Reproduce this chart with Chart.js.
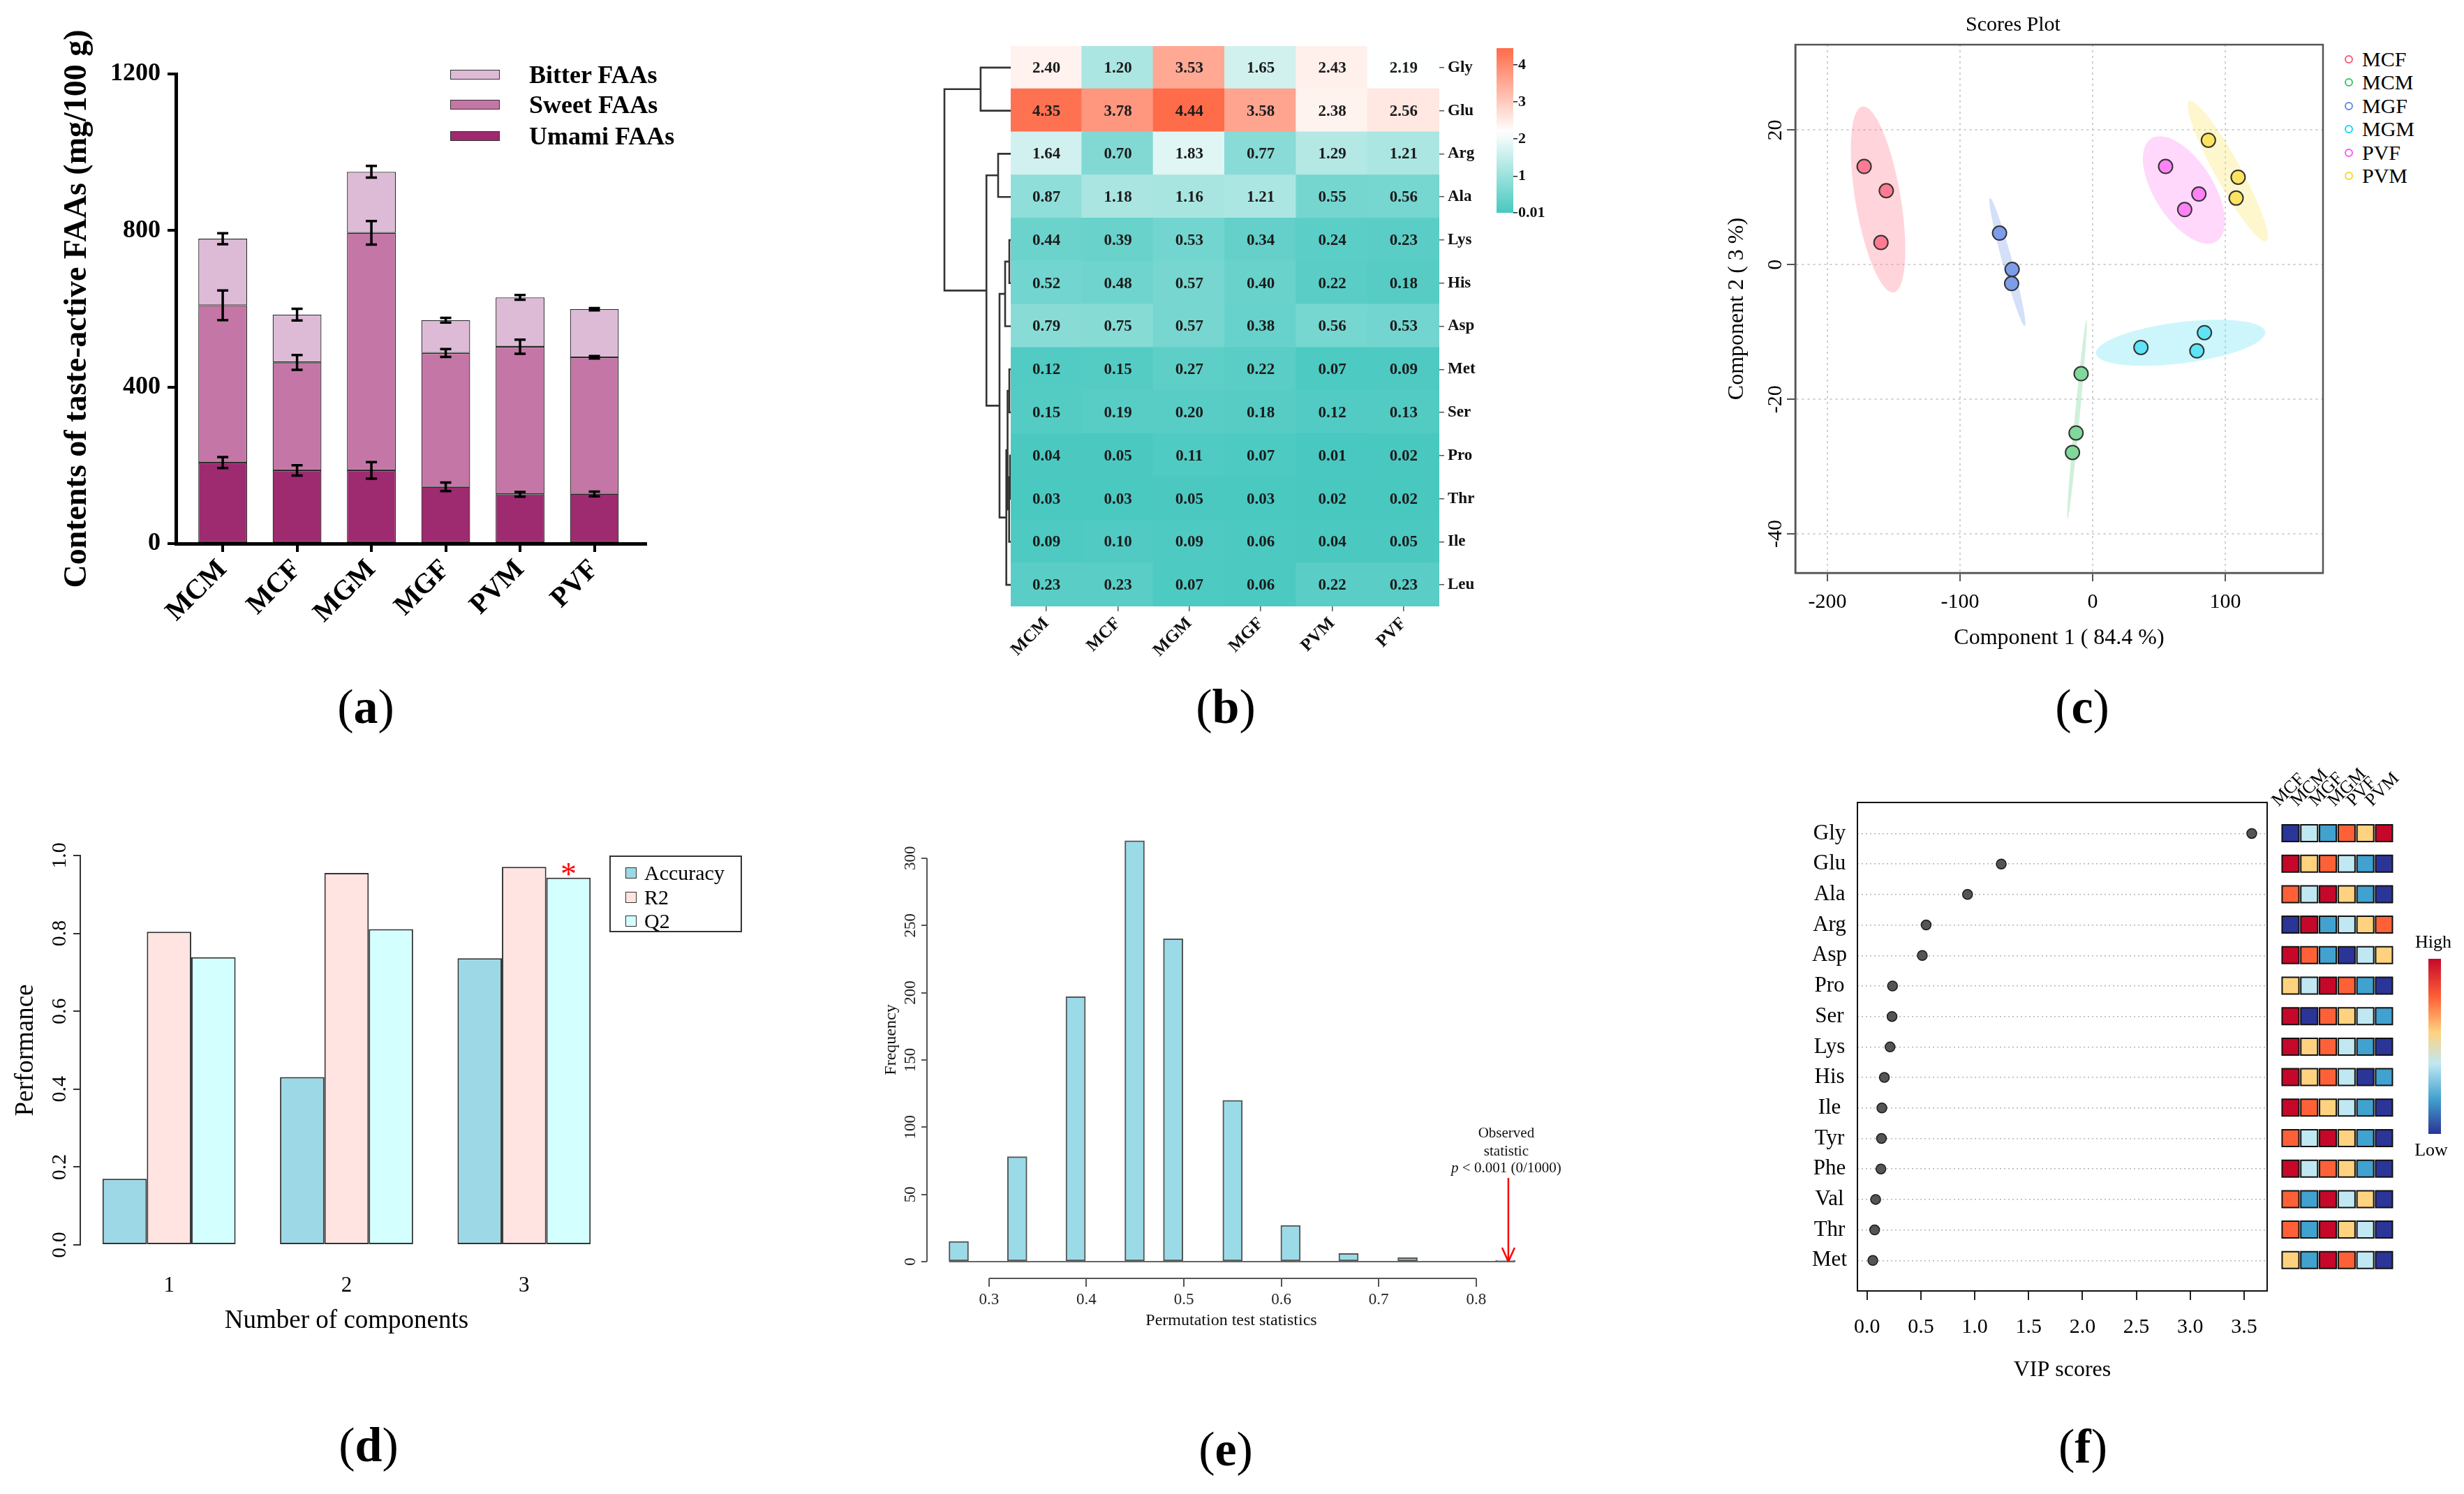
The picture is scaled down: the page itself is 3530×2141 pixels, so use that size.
<!DOCTYPE html>
<html><head><meta charset="utf-8"><title>Taste-active FAAs figure</title>
<script src="https://cdn.jsdelivr.net/npm/chart.js@4.4.1/dist/chart.umd.min.js"></script>
<style>
html,body{margin:0;padding:0;background:#fff}
body{position:relative;width:3530px;height:2141px;overflow:hidden;font-family:'Liberation Serif','Times New Roman',serif;color:#000}
canvas{position:absolute}
.abs{position:absolute;white-space:nowrap;line-height:1}
.lbl{font-size:70px;transform:translate(-50%,-50%)}
.vm{transform:translateY(-50%)}
</style></head><body>
<script>
// ===================== DATA =====================
// (a) taste-active FAAs (mg/100 g)
const faaGroups = ['MCM','MCF','MGM','MGF','PVM','PVF'];
const umamiFAAs = [207,187,187,145,126,127];
const sweetFAAs = [402,276,607,342,377,349];
const bitterFAAs = [170,122,156,84,126,123];
const umamiErr = [14,13,21,11,6,6];
const sweetErr = [38,19,30,10,18,3];
const bitterErr = [14,15,15,6,6,3];
const faaTicks = [0,400,800,1200];

// (b) heatmap
const heatSamples = ['MCM','MCF','MGM','MGF','PVM','PVF'];
const heatAAs = ['Gly','Glu','Arg','Ala','Lys','His','Asp','Met','Ser','Pro','Thr','Ile','Leu'];
const heatMCM = [2.40,4.35,1.64,0.87,0.44,0.52,0.79,0.12,0.15,0.04,0.03,0.09,0.23];
const heatMCF = [1.20,3.78,0.70,1.18,0.39,0.48,0.75,0.15,0.19,0.05,0.03,0.10,0.23];
const heatMGM = [3.53,4.44,1.83,1.16,0.53,0.57,0.57,0.27,0.20,0.11,0.05,0.09,0.07];
const heatMGF = [1.65,3.58,0.77,1.21,0.34,0.40,0.38,0.22,0.18,0.07,0.03,0.06,0.06];
const heatPVM = [2.43,2.38,1.29,0.55,0.24,0.22,0.56,0.07,0.12,0.01,0.02,0.04,0.22];
const heatPVF = [2.19,2.56,1.21,0.56,0.23,0.18,0.53,0.09,0.13,0.02,0.02,0.05,0.23];
const heatScaleTicks = [0.01,1,2,3,4];
// dendrogram merges (negative = leaf row, positive = earlier merge), merge heights
const dendroLeft   = [-10,-8,-5,1,2,5,3,7,-3,9,-1,11];
const dendroRight  = [-11,-9,-6,-12,4,-13,-7,6,-4,8,-2,10];
const dendroHeight = [1.0,2.0,2.0,2.3,4.5,6.3,8.0,16.0,18.0,34.7,43.0,94.7];

// (c) PLS-DA scores
const pcaGroups = ['MCF','MCM','MGF','MGM','PVF','PVM'];
const pc1MCF = [-172.3,-155.6,-159.6], pc2MCF = [14.6,11.0,3.3];
const pc1MCM = [-8.7,-12.5,-15.2],     pc2MCM = [-16.2,-25.0,-27.9];
const pc1MGF = [-70.2,-60.7,-61.1],    pc2MGF = [4.7,-0.7,-2.8];
const pc1MGM = [36.4,84.3,78.6],       pc2MGM = [-12.3,-10.1,-12.8];
const pc1PVF = [55.0,80.1,69.4],       pc2PVF = [14.6,10.5,8.2];
const pc1PVM = [87.3,109.7,108.2],     pc2PVM = [18.5,13.0,9.9];
const scoreXTicks = [-200,-100,0,100];
const scoreYTicks = [-40,-20,0,20];
// 95% confidence regions: centre and semi-axis vectors (data units)
const ellCx = [-161.8,-11.8,-64.3,66.3,68.8,101.9];
const ellCy = [9.7,-23.0,0.4,-11.6,11.1,13.9];
const ellAx = [-11.8,7.2,-13.1,63.8,-24.0,-29.0];
const ellAy = [13.8,14.8,9.5,1.6,7.7,10.4];
const ellBx = [16.8,1.8,3.6,-1.95,19.5,8.5];
const ellBy = [0.56,-0.035,0.19,3.03,2.1,0.9];

// (d) cross validation
const compLabels = ['1','2','3'];
const accuracyVals = [0.170,0.431,0.736];
const r2Vals = [0.804,0.955,0.971];
const q2Vals = [0.739,0.811,0.943];
const perfTicks = [0,0.2,0.4,0.6,0.8,1.0];

// (e) permutation test
const permStat = [0.269,0.329,0.389,0.4495,0.489,0.550,0.6095,0.669,0.7296,0.830];
const permFreq = [15,78,197,313,240,120,27,6,3,1];
const observedStat = 0.833;
const permXTicks = [0.3,0.4,0.5,0.6,0.7,0.8];
const permYTicks = [0,50,100,150,200,250,300];

// (f) VIP scores
const vipAAs = ['Gly','Glu','Ala','Arg','Asp','Pro','Ser','Lys','His','Ile','Tyr','Phe','Val','Thr','Met'];
const vipScores = [3.571,1.246,0.933,0.549,0.513,0.237,0.232,0.214,0.161,0.138,0.134,0.129,0.080,0.071,0.054];
const vipTicks = [0,0.5,1.0,1.5,2.0,2.5,3.0,3.5];
const vipGroups = ['MCF','MCM','MGF','MGM','PVF','PVM'];
const levelMCF = [1,6,5,1,6,4,6,6,6,6,5,6,5,5,4];
const levelMCM = [3,4,3,6,5,3,1,4,4,5,3,3,2,2,2];
const levelMGF = [2,5,6,2,2,6,5,5,5,4,6,5,6,6,6];
const levelMGM = [5,3,4,3,1,5,4,3,3,3,4,4,3,4,5];
const levelPVF = [4,2,2,4,3,2,3,2,1,2,2,2,4,3,3];
const levelPVM = [6,1,1,5,4,1,2,1,2,1,1,1,1,1,1];

// ===================== HELPERS =====================
const FONT = "'Liberation Serif','Times New Roman',serif";
Chart.defaults.font.family = FONT;
Chart.defaults.color = '#000';
function mk(left, top, w, h){
  const c = document.createElement('canvas');
  c.width = w; c.height = h;
  c.style.left = left+'px'; c.style.top = top+'px';
  c.style.width = w+'px'; c.style.height = h+'px';
  document.body.appendChild(c);
  return c;
}
function txt(left, top, html, style, cls){
  const d = document.createElement('div');
  d.className = 'abs ' + (cls||'');
  d.style.left = left+'px'; d.style.top = top+'px';
  if (style) d.style.cssText += style;
  d.innerHTML = html;
  document.body.appendChild(d);
  return d;
}
function box(left, top, w, h, style){
  const d = document.createElement('div');
  d.style.cssText = 'position:absolute;box-sizing:border-box;left:'+left+'px;top:'+top+'px;width:'+w+'px;height:'+h+'px;' + style;
  document.body.appendChild(d);
  return d;
}
const setTicks = arr => s => { s.ticks = arr.map(v => ({value: v})); };
const baseOpts = (o) => Object.assign({responsive:false, maintainAspectRatio:false, animation:false, devicePixelRatio:1, events:[]}, o);
const pad = (l,t,r,b) => ({autoPadding:false, padding:{left:l, top:t, right:r, bottom:b}});
const quiet = {legend:{display:false}, tooltip:{enabled:false}, title:{display:false}};
const framePlugin = {id:'frame', afterDatasetsDraw(chart, args, opts){
  const {left, top, right, bottom} = chart.chartArea; const ctx = chart.ctx;
  ctx.save(); ctx.strokeStyle = opts.color || '#000'; ctx.lineWidth = opts.width || 2;
  ctx.strokeRect(left, top, right-left, bottom-top); ctx.restore();
}};

// ===================== (a) stacked bars =====================
const faaColors = {umami:'#9E2A70', sweet:'#C477A6', bitter:'#DDBBD6'};
const faaErrs = [umamiErr, sweetErr, bitterErr];
const errPlugin = {id:'errbars', afterDatasetsDraw(chart){
  const ctx = chart.ctx, ys = chart.scales.y;
  ctx.save(); ctx.strokeStyle = '#000'; ctx.lineWidth = 3.5;
  chart.data.datasets.forEach((ds, di) => {
    chart.getDatasetMeta(di).data.forEach((el, i) => {
      let top = 0; for (let k = 0; k <= di; k++) top += chart.data.datasets[k].data[i].y;
      const e = faaErrs[di][i];
      const y1 = ys.getPixelForValue(top - e), y2 = ys.getPixelForValue(top + e);
      ctx.beginPath();
      ctx.moveTo(el.x, y1); ctx.lineTo(el.x, y2);
      ctx.moveTo(el.x-8, y1); ctx.lineTo(el.x+8, y1);
      ctx.moveTo(el.x-8, y2); ctx.lineTo(el.x+8, y2);
      ctx.stroke();
    });
  });
  ctx.restore();
}};
new Chart(mk(0,0,960,960), {
  type:'bar',
  data:{datasets:[
    {label:'Umami FAAs', data: umamiFAAs.map((v,i)=>({x:i,y:v})), backgroundColor:faaColors.umami},
    {label:'Sweet FAAs', data: sweetFAAs.map((v,i)=>({x:i,y:v})), backgroundColor:faaColors.sweet},
    {label:'Bitter FAAs', data: bitterFAAs.map((v,i)=>({x:i,y:v})), backgroundColor:faaColors.bitter}
  ]},
  options: baseOpts({
    layout: pad(0,106,35,0),
    plugins: quiet,
    datasets:{bar:{categoryPercentage:1, barPercentage:0.656, borderColor:'#2a2a2a', borderWidth:1.3, borderSkipped:false}},
    scales:{
      x:{type:'linear', stacked:true, offset:false, min:-0.63, max:5.69,
        afterBuildTicks: setTicks(faaGroups.map((_,i)=>i)),
        afterFit: s => { s.height = 181; },
        ticks:{callback: v => faaGroups[v], minRotation:45, maxRotation:45, autoSkip:false, font:{size:40, weight:'bold'}, color:'#000', padding:2},
        grid:{drawOnChartArea:false, drawTicks:true, tickLength:12, lineWidth:4, color:'#000', offset:false},
        border:{display:true, width:5, color:'#000'}},
      y:{stacked:true, min:0, max:1200,
        afterBuildTicks: setTicks(faaTicks),
        afterFit: s => { s.width = 252; },
        ticks:{callback: v => String(v), font:{size:36, weight:'bold'}, color:'#000', padding:10},
        grid:{drawOnChartArea:false, tickLength:12, lineWidth:4, color:'#000'},
        border:{display:true, width:5, color:'#000'},
        title:{display:true, text:'Contents of taste-active FAAs (mg/100 g)', font:{size:46, weight:'bold'}, color:'#000', padding:{top:84, bottom:0}}}
    }
  }),
  plugins:[errPlugin]
});
// legend (a)
[['Bitter FAAs', faaColors.bitter, 107],['Sweet FAAs', faaColors.sweet, 150],['Umami FAAs', faaColors.umami, 195]].forEach(([t,c,y]) => {
  box(645, y-7, 71, 14, 'background:'+c+';border:1.5px solid #333;');
  txt(758, y, t, 'font-size:36px;font-weight:bold;', 'vm');
});

// ===================== (b) heatmap =====================
const heatCols = [heatMCM, heatMCF, heatMGM, heatMGF, heatPVM, heatPVF];
const heatLo = [72,200,192], heatMid = [255,255,255], heatHi = [255,108,74];
const heatMin = 0.01, heatCenter = 2.2, heatMax = 4.44;
function heatColor(v){
  let a, b, t;
  if (v <= heatCenter) { a = heatLo; b = heatMid; t = (v-heatMin)/(heatCenter-heatMin); }
  else { a = heatMid; b = heatHi; t = (v-heatCenter)/(heatMax-heatCenter); }
  t = Math.max(0, Math.min(1, t));
  return 'rgb(' + a.map((c,i) => Math.round(c + (b[i]-c)*t)).join(',') + ')';
}
const rowsBottomUp = heatAAs.map((_,r)=>r).reverse();
const cellText = {id:'cellText', afterDatasetsDraw(chart){
  const ctx = chart.ctx; ctx.save();
  ctx.font = 'bold 23px ' + FONT; ctx.fillStyle = '#1b1b1b'; ctx.textAlign = 'center'; ctx.textBaseline = 'middle';
  chart.data.datasets.forEach((ds, di) => {
    chart.getDatasetMeta(di).data.forEach((el, j) => {
      ctx.fillText(ds.values[j].toFixed(2), el.x, (el.y + el.base)/2 + 1);
    });
  });
  ctx.restore();
}};
new Chart(mk(1300,0,900,960), {
  type:'bar',
  data:{labels: heatSamples, datasets: rowsBottomUp.map(r => ({
    label: heatAAs[r], values: heatCols.map(col => col[r]),
    data: heatCols.map(() => 1),
    backgroundColor: heatCols.map(col => heatColor(col[r]))
  }))},
  options: baseOpts({
    layout: pad(148,66,0,0),
    plugins: quiet,
    datasets:{bar:{categoryPercentage:1, barPercentage:1, borderWidth:0, inflateAmount:1}},
    scales:{
      x:{stacked:true, afterFit: s => { s.height = 91; },
        ticks:{minRotation:45, maxRotation:45, autoSkip:false, font:{size:25, weight:'bold'}, color:'#111', padding:3},
        grid:{drawOnChartArea:false, tickLength:7, color:'#555', lineWidth:1.5, offset:false},
        border:{display:false}},
      y:{stacked:true, position:'right', min:0, max:13,
        afterBuildTicks: setTicks(heatAAs.map((_,r)=>r+0.5)),
        afterFit: s => { s.width = 138; },
        ticks:{callback: v => heatAAs[heatAAs.length-1-Math.floor(v)], autoSkip:false, font:{size:23, weight:'bold'}, color:'#111', padding:5},
        grid:{drawOnChartArea:false, tickLength:7, color:'#555', lineWidth:1.5},
        border:{display:false}}
    }
  }),
  plugins:[cellText]
});
// dendrogram
function dendroSegments(){
  const nodeY = [], nodeH = [];
  const pos = id => id < 0 ? {y: -id - 1 + 0.5, h: 0} : {y: nodeY[id-1], h: nodeH[id-1]};
  return dendroLeft.map((l, k) => {
    const a = pos(l), b = pos(dendroRight[k]), h = dendroHeight[k];
    nodeY.push((a.y + b.y)/2); nodeH.push(h);
    return [{x:a.h, y:a.y}, {x:h, y:a.y}, {x:h, y:b.y}, {x:b.h, y:b.y}];
  });
}
new Chart(mk(1340,0,108,960), {
  type:'scatter',
  data:{datasets: dendroSegments().map(seg => ({data: seg, showLine:true, pointRadius:0, borderColor:'#333', borderWidth:2.6, clip:false, tension:0}))},
  options: baseOpts({
    layout: pad(13,66,0,91),
    plugins: quiet,
    scales:{
      x:{display:false, type:'linear', reverse:true, min:0, max:Math.max(...dendroHeight)},
      y:{display:false, type:'linear', reverse:true, min:0, max:heatAAs.length}
    }
  })
});
// colour key (b)
const gradPlugin = {id:'grad', beforeDatasetsDraw(chart){
  const {ctx, chartArea:a, scales:{y}} = chart;
  const g = ctx.createLinearGradient(0, y.getPixelForValue(y.min), 0, y.getPixelForValue(y.max));
  for (let k = 0; k <= 24; k++) g.addColorStop(k/24, heatColor(y.min + (y.max - y.min)*k/24));
  ctx.save(); ctx.fillStyle = g; ctx.fillRect(a.left, a.top, a.right-a.left, a.bottom-a.top); ctx.restore();
}};
new Chart(mk(2130,40,110,300), {
  type:'scatter', data:{datasets:[]},
  options: baseOpts({
    layout: pad(14,29,0,35),
    plugins: quiet,
    scales:{
      x:{display:false, min:0, max:1},
      y:{position:'right', min:heatMin, max:4.45,
        afterBuildTicks: setTicks(heatScaleTicks),
        afterFit: s => { s.width = 72; },
        ticks:{callback: v => String(v), font:{size:22, weight:'bold'}, color:'#111', padding:1},
        grid:{drawOnChartArea:false, tickLength:6, color:'#222', lineWidth:1.5},
        border:{display:false}}
    }
  }),
  plugins:[gradPlugin]
});

// ===================== (c) scores plot =====================
const pcaX = [pc1MCF, pc1MCM, pc1MGF, pc1MGM, pc1PVF, pc1PVM];
const pcaY = [pc2MCF, pc2MCM, pc2MGF, pc2MGM, pc2PVF, pc2PVM];
const pcaFill = ['#FF7B93','#7FD99A','#7D9DEB','#5FE4F5','#FF82F6','#FCE461'];
const pcaEll  = ['rgba(255,123,147,0.33)','rgba(110,210,140,0.33)','rgba(125,157,235,0.33)','rgba(95,228,245,0.32)','rgba(255,130,246,0.31)','rgba(252,228,97,0.32)'];
const pcaKey  = ['#F5607A','#3CC76A','#6A88E6','#1FD6F2','#F95CEE','#F4D836'];
const ellPlugin = {id:'ellipses', beforeDatasetsDraw(chart){
  const {ctx, scales:{x, y}} = chart; ctx.save();
  pcaGroups.forEach((g, i) => {
    ctx.beginPath();
    for (let k = 0; k <= 120; k++) {
      const t = k/120*2*Math.PI, c = Math.cos(t), s = Math.sin(t);
      const px = x.getPixelForValue(ellCx[i] + c*ellAx[i] + s*ellBx[i]);
      const py = y.getPixelForValue(ellCy[i] + c*ellAy[i] + s*ellBy[i]);
      if (k === 0) ctx.moveTo(px, py); else ctx.lineTo(px, py);
    }
    ctx.closePath(); ctx.fillStyle = pcaEll[i]; ctx.fill();
  });
  ctx.restore();
}};
new Chart(mk(2440,0,900,1000), {
  type:'scatter',
  data:{datasets: pcaGroups.map((g,i) => ({label:g, data: pcaX[i].map((v,k)=>({x:v, y:pcaY[i][k]})),
    backgroundColor: pcaFill[i], borderColor:'#333', borderWidth:2, pointRadius:10}))},
  options: baseOpts({
    layout: pad(0,0,12,0),
    plugins:{legend:{display:false}, tooltip:{enabled:false},
      title:{display:true, text:'Scores Plot', font:{size:30, weight:'normal'}, color:'#000', padding:{top:18, bottom:10}},
      frame:{color:'#555', width:2.5}},
    scales:{
      x:{type:'linear', min:-224.2, max:173.7,
        afterBuildTicks: setTicks(scoreXTicks),
        afterFit: s => { s.height = 179; },
        ticks:{font:{size:30}, color:'#000', padding:12},
        grid:{drawOnChartArea:true, color:'#cfcfcf', lineWidth:2, tickLength:12, tickColor:'#555', tickWidth:2},
        border:{display:true, color:'#555', width:2.5, dash:[3,5]},
        title:{display:true, text:'Component 1 ( 84.4 %)', font:{size:32}, color:'#000', padding:{top:0, bottom:66}}},
      y:{type:'linear', min:-45.8, max:32.7,
        afterBuildTicks: setTicks(scoreYTicks),
        afterFit: s => { s.width = 132; },
        ticks:{font:{size:30}, color:'#000', minRotation:90, maxRotation:90, crossAlign:'center', padding:-4},
        grid:{drawOnChartArea:true, color:'#cfcfcf', lineWidth:2, tickLength:12, tickColor:'#555', tickWidth:2},
        border:{display:true, color:'#555', width:2.5, dash:[3,5]},
        title:{display:true, text:'Component 2 ( 3 %)', font:{size:32}, color:'#000', padding:{top:29, bottom:0}}}
    }
  }),
  plugins:[ellPlugin, framePlugin]
});
// legend (c)
pcaGroups.forEach((g,i) => {
  const y = 85 + i*33.4;
  box(3359, y-6, 12, 12, 'border:2.5px solid '+pcaKey[i]+';border-radius:50%;');
  txt(3384, y, g, 'font-size:30px;', 'vm');
});

// ===================== (d) performance =====================
const perfColors = {acc:'#9DD8E6', r2:'#FFE4E1', q2:'#D3FFFF'};
const starPlugin = {id:'star', afterDatasetsDraw(chart){
  const i = q2Vals.indexOf(Math.max(...q2Vals));
  const el = chart.getDatasetMeta(2).data[i];
  const ctx = chart.ctx; ctx.save();
  ctx.fillStyle = '#FF0000'; ctx.font = '46px ' + FONT; ctx.textAlign = 'center'; ctx.textBaseline = 'alphabetic';
  ctx.fillText('*', el.x, el.y + 10); ctx.restore();
}};
new Chart(mk(0,1100,1150,1041), {
  type:'bar',
  data:{labels: compLabels, datasets:[
    {label:'Accuracy', data: accuracyVals, backgroundColor: perfColors.acc},
    {label:'R2', data: r2Vals, backgroundColor: perfColors.r2},
    {label:'Q2', data: q2Vals, backgroundColor: perfColors.q2}
  ]},
  options: baseOpts({
    layout: pad(0,126,272,0),
    plugins: quiet,
    datasets:{bar:{categoryPercentage:0.75, barPercentage:1, borderColor:'#333', borderWidth:2, borderSkipped:false}},
    scales:{
      x:{afterFit: s => { s.height = 357; },
        ticks:{font:{size:31}, color:'#000', padding:32},
        grid:{display:false}, border:{display:false},
        title:{display:true, text:'Number of components', font:{size:37}, color:'#000', padding:{top:0, bottom:226}}},
      y:{min:0, max:1,
        afterBuildTicks: setTicks(perfTicks),
        afterFit: s => { s.width = 115; },
        ticks:{callback: v => v.toFixed(1), font:{size:30}, color:'#000', minRotation:90, maxRotation:90, crossAlign:'center', padding:0},
        grid:{drawOnChartArea:false, tickLength:10, color:'#333', lineWidth:2},
        border:{display:true, width:2, color:'#333'},
        title:{display:true, text:'Performance', font:{size:37}, color:'#000', padding:{top:15, bottom:0}}}
    }
  }),
  plugins:[starPlugin]
});
// legend (d)
box(873, 1226, 190, 110, 'border:2px solid #333;');
[['Accuracy', perfColors.acc, 1251],['R2', perfColors.r2, 1286],['Q2', perfColors.q2, 1320]].forEach(([t,c,y]) => {
  box(896, y-8, 16, 16, 'background:'+c+';border:1.5px solid #333;');
  txt(923, y, t, 'font-size:30px;', 'vm');
});

// ===================== (e) permutation histogram =====================
const permPlugin = {id:'perm', afterDatasetsDraw(chart){
  const {ctx, scales:{x, y}, chartArea:a} = chart;
  const meta = chart.getDatasetMeta(0), first = meta.data[0], last = meta.data[meta.data.length-1];
  const y0 = y.getPixelForValue(0);
  const line = (x1,y1,x2,y2) => { ctx.beginPath(); ctx.moveTo(x1,y1); ctx.lineTo(x2,y2); ctx.stroke(); };
  ctx.save();
  ctx.strokeStyle = '#666'; ctx.lineWidth = 2;
  line(first.x - first.width/2, y0, last.x + last.width/2, y0);
  ctx.strokeStyle = '#555';
  const yb = a.bottom + 24;
  line(x.getPixelForValue(x.ticks[0].value), yb, x.getPixelForValue(x.ticks[x.ticks.length-1].value), yb);
  line(a.left, y.getPixelForValue(y.ticks[0].value), a.left, y.getPixelForValue(y.ticks[y.ticks.length-1].value));
  // observed statistic arrow
  const ax = x.getPixelForValue(observedStat);
  ctx.strokeStyle = '#FF0000'; ctx.lineWidth = 2.5;
  line(ax, y0 - 120, ax, y0);
  line(ax - 9, y0 - 20, ax, y0); line(ax + 9, y0 - 20, ax, y0);
  ctx.fillStyle = '#111'; ctx.textBaseline = 'middle'; ctx.textAlign = 'center';
  ctx.font = '21px ' + FONT;
  ctx.fillText('Observed', ax - 3, y0 - 184);
  ctx.fillText('statistic', ax - 3, y0 - 158);
  const rest = ' < 0.001 (0/1000)';
  const wRest = ctx.measureText(rest).width;
  ctx.font = 'italic 21px ' + FONT; const wp = ctx.measureText('p').width;
  const x0 = ax - 3 - (wRest + wp)/2;
  ctx.textAlign = 'left';
  ctx.fillText('p', x0, y0 - 134);
  ctx.font = '21px ' + FONT; ctx.fillText(rest, x0 + wp, y0 - 134);
  ctx.restore();
}};
new Chart(mk(1200,1100,1100,1041), {
  type:'bar',
  data:{datasets:[{label:'Frequency', data: permStat.map((v,i)=>({x:v, y:permFreq[i]})),
    backgroundColor:'#9BDBE8', borderColor:'#555', borderWidth:2, borderSkipped:false, barThickness:28}]},
  options: baseOpts({
    layout: pad(0,72,100,0),
    plugins: quiet,
    scales:{
      x:{type:'linear', offset:false, min:0.2364, max:0.861,
        afterBuildTicks: setTicks(permXTicks),
        afterFit: s => { s.height = 333; },
        ticks:{callback: v => v.toFixed(1), font:{size:23}, color:'#222', padding:5},
        grid:{drawOnChartArea:false, tickLength:36, color:'#555', lineWidth:2, tickBorderDash:[0,24,12,200], offset:false},
        border:{display:false},
        title:{display:true, text:'Permutation test statistics', font:{size:24}, color:'#111', padding:{top:0, bottom:234}}},
      y:{min:0, max:330,
        afterBuildTicks: setTicks(permYTicks),
        afterFit: s => { s.width = 128; },
        ticks:{font:{size:23}, color:'#222', minRotation:90, maxRotation:90, crossAlign:'center', padding:-2},
        grid:{drawOnChartArea:false, tickLength:8, color:'#555', lineWidth:2},
        border:{display:false},
        title:{display:true, text:'Frequency', font:{size:24}, color:'#111', padding:{top:62, bottom:0}}}
    }
  }),
  plugins:[permPlugin]
});

// ===================== (f) VIP scores =====================
new Chart(mk(2450,1100,820,1041), {
  type:'scatter',
  data:{datasets:[{label:'VIP', data: vipScores.map((v,i)=>({x:v, y:i})),
    backgroundColor:'#555', borderColor:'#1a1a1a', borderWidth:1.5, pointRadius:7}]},
  options: baseOpts({
    layout: pad(0,50,22,0),
    plugins:{legend:{display:false}, tooltip:{enabled:false}, frame:{color:'#111', width:2}},
    scales:{
      x:{type:'linear', min:-0.089, max:3.714,
        afterBuildTicks: setTicks(vipTicks),
        afterFit: s => { s.height = 291; },
        ticks:{callback: v => v.toFixed(1), font:{size:30}, color:'#000', padding:21},
        grid:{drawOnChartArea:false, tickLength:13, color:'#222', lineWidth:2},
        border:{display:true, width:2, color:'#111'},
        title:{display:true, text:'VIP scores', font:{size:32}, color:'#000', padding:{top:0, bottom:158}}},
      y:{type:'linear', reverse:true, min:-1.017, max:15.0,
        afterBuildTicks: setTicks(vipAAs.map((_,i)=>i)),
        afterFit: s => { s.width = 211; },
        ticks:{callback: v => vipAAs[v], autoSkip:false, font:{size:31}, color:'#000', crossAlign:'center', padding:15},
        grid:{drawOnChartArea:true, drawTicks:false, color:'#b5b5b5', lineWidth:1.5},
        border:{display:false, dash:[2,4]}}
    }
  }),
  plugins:[framePlugin]
});
// relative concentration squares
const vipLevels = [levelMCF, levelMCM, levelMGF, levelMGM, levelPVF, levelPVM];
const levelPalette = ['#2B3497','#41A1CF','#C0E8F2','#FED27F','#FE6137','#C5082A'];
new Chart(mk(3250,1100,215,760), {
  type:'scatter',
  data:{datasets: vipGroups.map((g,j) => ({label:g, data: vipAAs.map((_,i)=>({x:j, y:i})),
    backgroundColor: vipLevels[j].map(l => levelPalette[l-1]), borderColor:'#111', borderWidth:2,
    pointStyle:'rect', pointRadius:17, clip:false}))},
  options: baseOpts({
    layout: pad(4.66,0,12,38.9),
    plugins: quiet,
    scales:{
      x:{type:'linear', position:'top', min:-1, max:6,
        afterBuildTicks: setTicks(vipGroups.map((_,j)=>j)),
        afterFit: s => { s.height = 78.7; },
        ticks:{callback: v => vipGroups[v], minRotation:45, maxRotation:45, autoSkip:false, font:{size:26}, color:'#000', padding:8},
        grid:{display:false}, border:{display:false}},
      y:{display:false, type:'linear', reverse:true, min:-0.35, max:14.35}
    }
  })
});
// colour key (f)
box(3479, 1374, 18, 251, 'background:linear-gradient(to bottom,#C5082A 0%,#FE6137 22%,#FED27F 42%,#C0E8F2 60%,#41A1CF 80%,#2B3497 100%);');
txt(3486, 1350, 'High', 'font-size:26px;transform:translate(-50%,-50%);');
txt(3483, 1648, 'Low', 'font-size:26px;transform:translate(-50%,-50%);');

// ===================== panel labels =====================
[['a',524,1013],['b',1756,1013],['c',2983,1013],['d',528,2071],['e',1756,2077],['f',2984,2073]].forEach(([l,x,y]) => {
  txt(x, y, '(<b>'+l+'</b>)', '', 'lbl');
});
</script>
</body></html>
